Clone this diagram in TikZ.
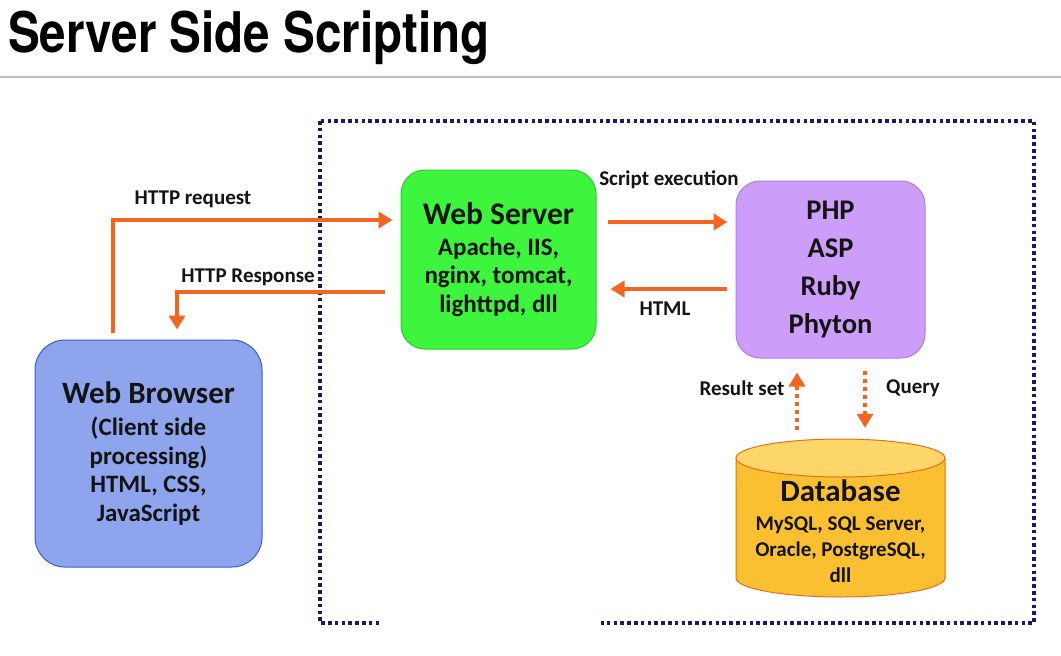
\documentclass[tikz,border=0pt]{standalone}
\usepackage{fontspec}
\setmainfont{Carlito}
\newfontfamily\titlefont[FakeStretch=0.85]{TeX Gyre Heros}
\usetikzlibrary{arrows.meta,calc}
\definecolor{arrorange}{RGB}{242,101,34}
\definecolor{boxnavy}{RGB}{25,25,105}
\definecolor{wsfill}{RGB}{60,245,60}
\definecolor{wsdraw}{RGB}{45,205,45}
\definecolor{phpfill}{RGB}{204,158,250}
\definecolor{phpdraw}{RGB}{175,125,235}
\definecolor{brfill}{RGB}{142,165,238}
\definecolor{brdraw}{RGB}{60,90,210}
\definecolor{dbside}{RGB}{250,192,50}
\definecolor{dbtop}{RGB}{252,214,105}
\definecolor{dbdraw}{RGB}{228,112,30}
\definecolor{txt}{RGB}{20,20,20}
\tikzset{
  box/.style={rounded corners=24pt, draw, line width=1pt, align=center,
    inner sep=0pt, text=txt, font=\bfseries\fontsize{25}{28.5}\selectfont},
  lbl/.style={text=txt, font=\bfseries\fontsize{21}{24}\selectfont, inner sep=0pt},
  arr/.style={draw=arrorange, line width=4pt, -{Triangle[length=14pt,width=16pt]}},
  dotarr/.style={draw=arrorange, line width=4pt, dash pattern=on 4pt off 4pt,
    -{Triangle[length=14pt,width=16pt]}},
  region/.style={draw=boxnavy, line width=3.6pt, dash pattern=on 3.6pt off 3.2pt}
}
\begin{document}
\begin{tikzpicture}[x=1pt,y=-1pt]
\useasboundingbox (0,0) rectangle (1061,656);
\fill[white] (0,0) rectangle (1061,656);

% title
\node[anchor=base west, inner sep=0pt, text=black,
  font=\titlefont\bfseries\fontsize{56}{56}\selectfont] (title) at (8,52) {Server Side Scripting};
\draw[black!25, line width=2pt] (0,77) -- (1061,77);

% dotted region
\draw[region] (320,121) rectangle (1034,623);
\fill[white] (380,600) rectangle (601,656);

% boxes
\node[box, fill=wsfill, draw=wsdraw, minimum width=195, minimum height=179] (ws) at (498.5,259.5)
  {{\fontsize{31.5}{31.5}\selectfont Web Server}\\[2pt] Apache, IIS,\\ nginx, tomcat,\\ lighttpd, dll};
\node[box, fill=phpfill, draw=phpdraw, minimum width=189, minimum height=177,
  font=\bfseries\fontsize{28.5}{38}\selectfont] (php) at (830.5,269.5)
  {PHP\\ ASP\\ Ruby\\ Phyton};
\node[box, fill=brfill, draw=brdraw, rounded corners=30pt, minimum width=227, minimum height=227] (br) at (148.5,453.5)
  {{\fontsize{31}{31}\selectfont Web Browser}\\[4pt] (Client side\\ processing)\\ HTML, CSS,\\ JavaScript};

% database cylinder
\path[fill=dbside, draw=dbdraw, line width=1pt] (736,458) -- (736,578)
  arc[start angle=180, end angle=360, x radius=104.5pt, y radius=19pt] -- (945,458) -- cycle;
\draw[fill=dbtop, draw=dbdraw, line width=1pt] (840.5,458) ellipse [x radius=104.5pt, y radius=19pt];
\node[inner sep=0pt, minimum width=209, minimum height=158] (db) at (840.5,518) {};
\node[align=center, text=txt, inner sep=0pt, font=\bfseries\fontsize{21}{26}\selectfont] (dbt) at (840.5,531)
  {{\fontsize{31}{31}\selectfont Database}\\[3pt] MySQL, SQL Server,\\ Oracle, PostgreSQL,\\ dll};

% connectors
\draw[arr] ($(br.north)+(-35.5,-7)$) |- ($(ws.west)+(-8,-39.5)$);
\draw[arr] ($(ws.west)+(-16,32.5)$) -| ($(br.north)+(28.5,-10)$);
\draw[arr] ($(ws.east)+(11,-37.5)$) -- ($(php.west)+(-8,-47.5)$);
\draw[arr] ($(php.west)+(-9,19.5)$) -- ($(ws.east)+(14,29.5)$);
\draw[dotarr] ($(db.north)+(-43.5,-9)$) -- ($(php.south)+(-33.5,14)$);
\draw[dotarr] ($(php.south)+(34.5,12)$) -- ($(db.north)+(24.5,-11)$);

% labels
\node[lbl] (lreq) at (193,199) {HTTP request};
\node[lbl] (lresp) at (248,277) {HTTP Response};
\node[lbl] (lscr) at (669,180) {Script execution};
\node[lbl] (lhtml) at (665,309) {HTML};
\node[lbl] (lres) at (742,388) {Result set};
\node[lbl] (lq) at (913,388) {Query};
\end{tikzpicture}
\end{document}
